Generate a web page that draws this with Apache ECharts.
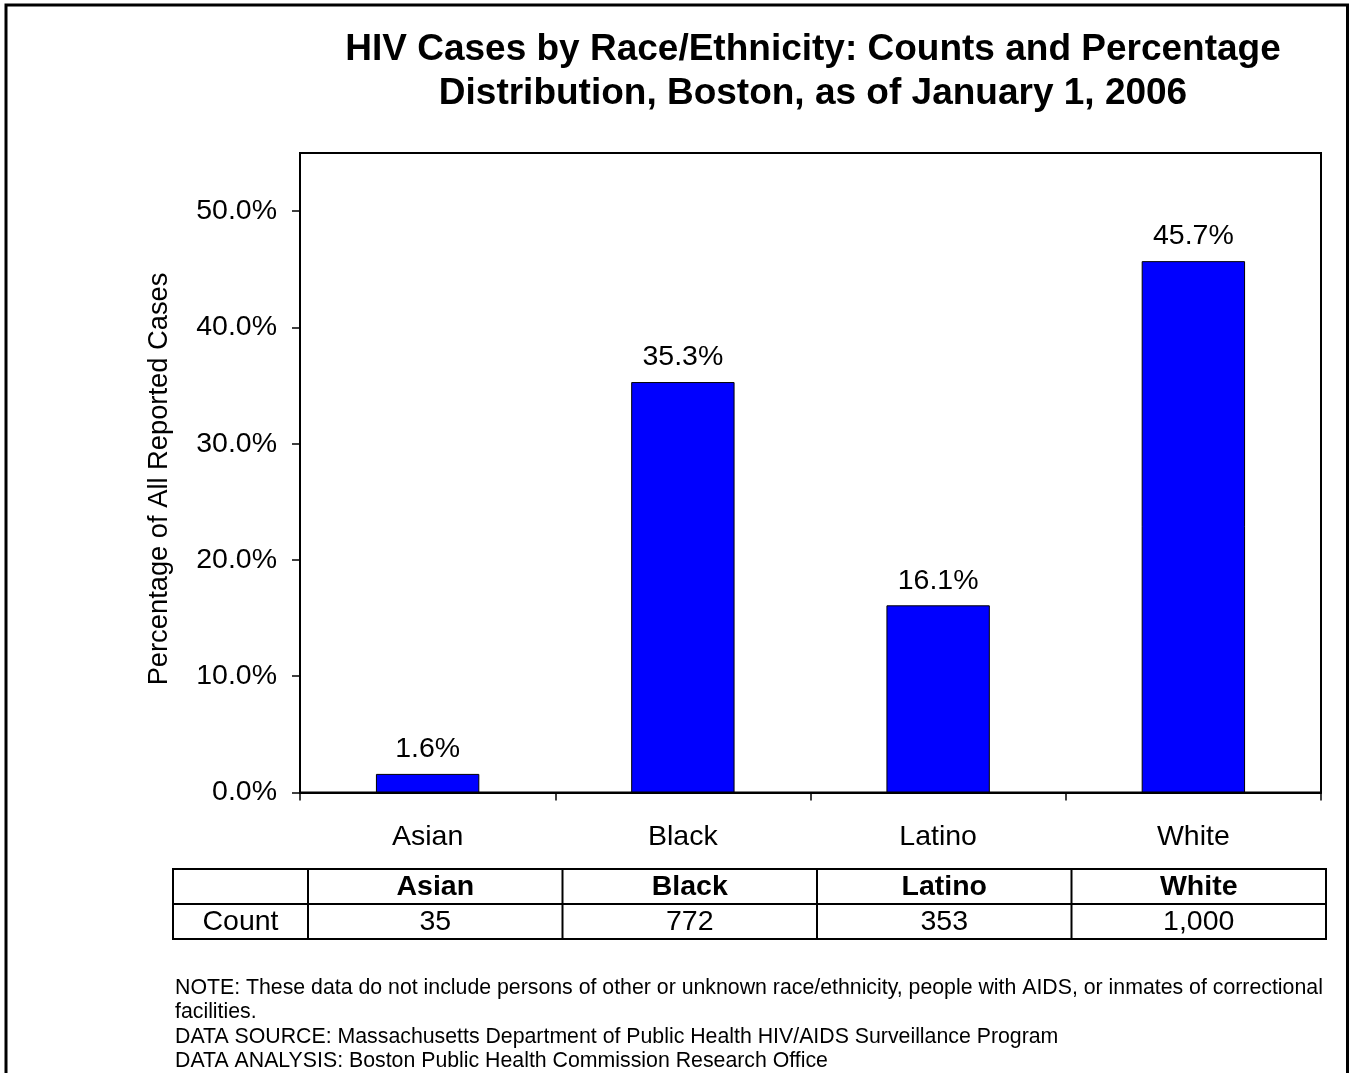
<!DOCTYPE html>
<html>
<head>
<meta charset="utf-8">
<script src="https://cdn.jsdelivr.net/npm/echarts@6/dist/echarts.min.js"></script>
<style>
html,body{margin:0;padding:0;background:#fff;}
#chart{width:1354px;height:1073px;}
</style>
</head>
<body>
<div id="chart"></div>
<script>
var categories = ['Asian', 'Black', 'Latino', 'White'];
var percentages = [1.6, 35.3, 16.1, 45.7];
var counts = ['35', '772', '353', '1,000'];
var yTicks = [0, 10, 20, 30, 40, 50];
var titleText = 'HIV Cases by Race/Ethnicity: Counts and Percentage\nDistribution, Boston, as of January 1, 2006';
var yAxisTitle = 'Percentage of All Reported Cases';
var tableRowLabel = 'Count';
var footnotes = [
  'NOTE: These data do not include persons of other or unknown race/ethnicity, people with AIDS, or inmates of correctional',
  'facilities.',
  'DATA SOURCE: Massachusetts Department of Public Health HIV/AIDS Surveillance Program',
  'DATA ANALYSIS: Boston Public Health Commission Research Office'
];

var FONT = 'Liberation Sans, Arial, sans-serif';
var chart = echarts.init(document.getElementById('chart'), null, {renderer: 'canvas'});

// table layout
var tLeft = 173, tFirstCol = 308, tRight = 1326;
var tTop = 869, tMid = 904, tBottom = 939;
var colW = (tRight - tFirstCol) / categories.length;

var graphics = [];
// outer border
graphics.push({type: 'rect', shape: {x: 6, y: 5, width: 1341.5, height: 1090}, style: {fill: 'none', stroke: '#000', lineWidth: 3}, silent: true});
// y axis title
graphics.push({type: 'text', x: 159, y: 479, rotation: Math.PI / 2, style: {text: yAxisTitle, font: '27.3px ' + FONT, fill: '#000', align: 'center', verticalAlign: 'middle'}});
// table box
graphics.push({type: 'rect', shape: {x: tLeft, y: tTop, width: tRight - tLeft, height: tBottom - tTop}, style: {fill: 'none', stroke: '#000', lineWidth: 2}});
graphics.push({type: 'line', shape: {x1: tLeft, y1: tMid, x2: tRight, y2: tMid}, style: {stroke: '#000', lineWidth: 2}});
for (var i = 0; i < categories.length; i++) {
  var x0 = tFirstCol + i * colW;
  graphics.push({type: 'line', shape: {x1: x0, y1: tTop, x2: x0, y2: tBottom}, style: {stroke: '#000', lineWidth: 2}});
  graphics.push({type: 'text', x: x0 + colW / 2, y: (tTop + tMid) / 2 + 1, style: {text: categories[i], font: 'bold 28.5px ' + FONT, fill: '#000', align: 'center', verticalAlign: 'middle'}});
  graphics.push({type: 'text', x: x0 + colW / 2, y: (tMid + tBottom) / 2 + 1, style: {text: counts[i], font: '28.5px ' + FONT, fill: '#000', align: 'center', verticalAlign: 'middle'}});
}
graphics.push({type: 'text', x: (tLeft + tFirstCol) / 2, y: (tMid + tBottom) / 2 + 1, style: {text: tableRowLabel, font: '28.5px ' + FONT, fill: '#000', align: 'center', verticalAlign: 'middle'}});
// footnotes
for (var j = 0; j < footnotes.length; j++) {
  graphics.push({type: 'text', x: 175, y: 988 + j * 24.5, style: {text: footnotes[j], font: '21.3px ' + FONT, fill: '#000', align: 'left', verticalAlign: 'middle'}});
}

var option = {
  backgroundColor: '#fff',
  animation: false,
  textStyle: {fontFamily: FONT},
  title: {
    text: titleText,
    left: 808,
    top: 23,
    textAlign: 'center',
    textStyle: {fontFamily: FONT, fontSize: 37, fontWeight: 'bold', color: '#000', lineHeight: 44}
  },
  grid: {left: 300, right: 33, top: 153, bottom: 280.5, show: true, borderColor: '#000', borderWidth: 2, backgroundColor: 'transparent'},
  xAxis: {
    type: 'category',
    data: categories,
    boundaryGap: true,
    axisLine: {show: true, lineStyle: {color: '#000', width: 2}},
    axisTick: {show: true, length: 8, inside: false, lineStyle: {color: '#000', width: 1.5}},
    axisLabel: {color: '#000', fontSize: 28.5, fontFamily: FONT, margin: 30},
    splitLine: {show: false}
  },
  yAxis: {
    type: 'value',
    min: 0,
    max: 55,
    interval: 10,
    axisLine: {show: true, lineStyle: {color: '#000', width: 2}},
    axisTick: {show: true, length: 8, inside: false, customValues: yTicks, lineStyle: {color: '#000', width: 1.5}},
    axisLabel: {color: '#000', fontSize: 28.5, fontFamily: FONT, margin: 23, customValues: yTicks,
      formatter: function (v) { return v.toFixed(1) + '%'; }},
    splitLine: {show: false}
  },
  series: [{
    type: 'bar',
    data: percentages,
    barWidth: '40.5%',
    itemStyle: {color: '#0000FF', borderColor: '#000', borderWidth: 1},
    label: {show: true, position: 'top', distance: 10, color: '#000', fontSize: 28.5, fontFamily: FONT,
      formatter: function (p) { return p.value.toFixed(1) + '%'; }}
  }],
  graphic: graphics
};
chart.setOption(option);
</script>
</body>
</html>
